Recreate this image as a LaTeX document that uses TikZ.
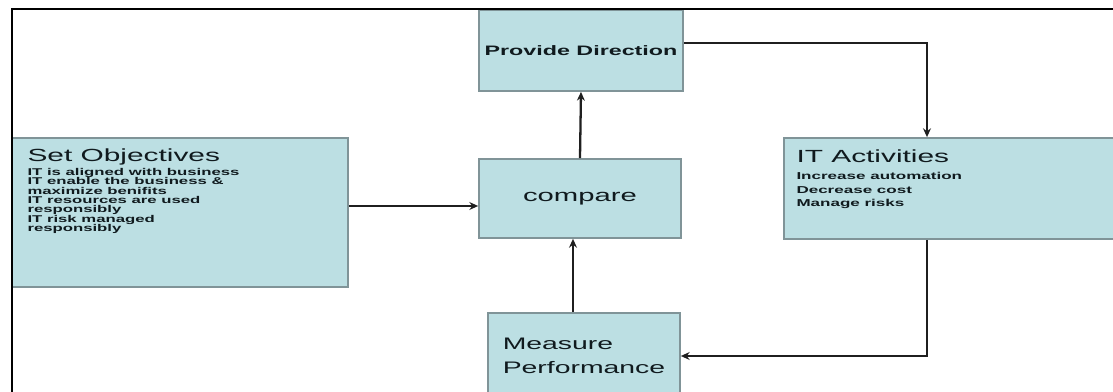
\documentclass[tikz,border=0pt]{standalone}
\usepackage{fontspec}
\setmainfont{Liberation Sans}[FakeStretch=1.7]
\usetikzlibrary{positioning}
\usetikzlibrary{calc}
\usetikzlibrary{arrows.meta}
\definecolor{boxfill}{RGB}{188,223,227}
\definecolor{boxline}{RGB}{128,148,152}
\definecolor{inktext}{RGB}{16,26,30}

\begin{document}
\begin{tikzpicture}[x=0.02cm, y=-0.02cm,
	box/.style={draw=boxline, fill=boxfill, line width=1pt, inner sep=0pt, text=inktext},
	flow/.style={draw=black!88, line width=1.3pt, -{Stealth[length=5pt,width=4.5pt]}},
	heading/.style={inner sep=0pt, text=inktext, font=\fontsize{10}{12}\selectfont},
	points/.style={inner sep=0pt, text=inktext, align=left, font=\bfseries\fontsize{5.6}{5.3}\selectfont}]
	
	\useasboundingbox (0,0) rectangle (1113,392);
	\clip (0,0) rectangle (1113,392);
	
	\node [box, minimum width=4.08cm, minimum height=1.62cm, font=\bfseries\fontsize{7.8}{9}\selectfont] at (581,50.5) (direction) {Provide Direction};
	\node [box, minimum width=4.04cm, minimum height=1.58cm, font=\fontsize{9.8}{12}\selectfont] at (580,198.5) (compare) {compare};
	\node [box, minimum width=3.84cm, minimum height=1.72cm, align=left, font=\fontsize{9.5}{14}\selectfont] at (584,356) (measure) {Measure\\Performance};
	\node [box, minimum width=6.72cm, minimum height=2.98cm] at (180,212.5) (objectives) {};
	\node [box, minimum width=6.82cm, minimum height=2.02cm] at (954.5,188.5) (activities) {};
	
	\node [heading, anchor=base west] at ([shift={(16,24)}]objectives.north west) (objtitle) {Set Objectives};
	\node [points, anchor=north west] at ([shift={(16,31)}]objectives.north west) (objpoints) {IT is aligned with business\\IT enable the business \&\\maximize benifits\\IT resources are used\\responsibly\\IT risk managed\\responsibly};
	\node [heading, anchor=base west] at ([shift={(13,25)}]activities.north west) (acttitle) {IT Activities};
	\node [points, anchor=north west, font=\bfseries\fontsize{5.7}{7.7}\selectfont] at ([shift={(13,35)}]activities.north west) (actpoints) {Increase automation\\Decrease cost\\Manage risks};
	
	\coordinate (feed) at (0,206); \coordinate (itx) at (927,43); \coordinate (upx) at (573,0);
	\draw [flow] (objectives.east |- feed) -- (compare.west |- feed);
	\draw [flow] (compare.north) -- (direction.south);
	\draw [flow] (direction.east |- itx) -| (activities.north -| itx);
	\draw [flow] (activities.south -| itx) |- (measure.east);
	\draw [flow] (measure.north -| upx) -- (compare.south -| upx);
	
	\draw [line width=1.4pt] (12,392) -- (12,9) -- (1113,9);
\end{tikzpicture}
\end{document}
